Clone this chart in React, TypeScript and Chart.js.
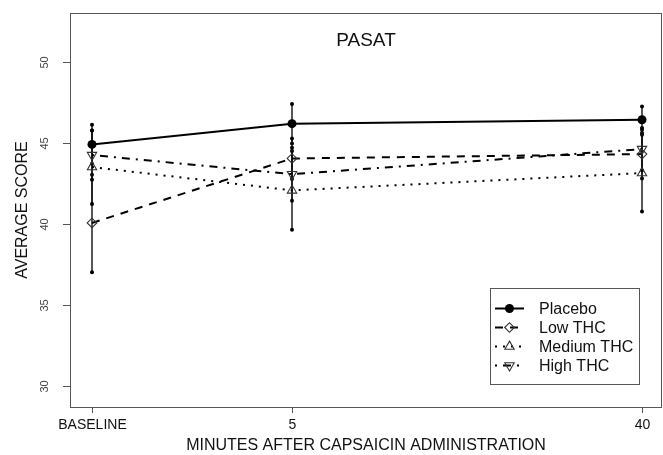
import React, { useEffect, useRef } from 'react';
import { Chart, registerables } from 'chart.js';

Chart.register(...registerables);

// ---- data ----
const timePoints = [-15, 5, 40];
const tickLabels = ['BASELINE', '5', '40'];
const yTicks = [30, 35, 40, 45, 50];
const seriesNames = ['Placebo', 'Low THC', 'Medium THC', 'High THC'];

const placeboMean = [44.94, 46.22, 46.46];
const placeboLow = [43.74, 45.0, 45.64];
const placeboHigh = [46.15, 47.43, 47.28];

const lowMean = [40.09, 44.07, 44.34];
const lowLow = [37.04, 42.8, 42.84];
const lowHigh = [43.07, 45.3, 45.84];

const medMean = [43.54, 42.1, 43.17];
const medLow = [41.26, 39.67, 40.8];
const medHigh = [45.8, 44.53, 45.54];

const highMean = [44.28, 43.1, 44.65];
const highLow = [42.76, 41.46, 43.35];
const highHigh = [45.8, 44.74, 45.95];

const FONT = '"Liberation Sans", Arial, Helvetica, sans-serif';

const styles = [
  { dash: [] as number[], marker: 'circle', fill: true },
  { dash: [8, 7], marker: 'diamond', fill: false },
  { dash: [2, 6], marker: 'triUp', fill: false },
  { dash: [2, 6, 8, 6], marker: 'triDown', fill: false },
];

function drawMarker(ctx: CanvasRenderingContext2D, kind: string, x: number, y: number, fill: boolean) {
  ctx.save();
  ctx.setLineDash([]);
  ctx.beginPath();
  if (kind === 'circle') {
    ctx.arc(x, y, 4.5, 0, Math.PI * 2);
  } else if (kind === 'diamond') {
    const r = 4.8;
    ctx.moveTo(x - r, y);
    ctx.lineTo(x, y - r);
    ctx.lineTo(x + r, y);
    ctx.lineTo(x, y + r);
    ctx.closePath();
  } else if (kind === 'triUp') {
    const r = 5.4;
    ctx.moveTo(x, y - r);
    ctx.lineTo(x + r * 0.866, y + r * 0.5);
    ctx.lineTo(x - r * 0.866, y + r * 0.5);
    ctx.closePath();
  } else {
    const r = 5.4;
    ctx.moveTo(x, y + r);
    ctx.lineTo(x + r * 0.866, y - r * 0.5);
    ctx.lineTo(x - r * 0.866, y - r * 0.5);
    ctx.closePath();
  }
  if (fill) {
    ctx.fillStyle = '#000';
    ctx.fill();
  } else {
    ctx.lineWidth = 1.1;
    ctx.strokeStyle = '#333';
    ctx.stroke();
  }
  ctx.restore();
}

const means = [placeboMean, lowMean, medMean, highMean];
const lows = [placeboLow, lowLow, medLow, highLow];
const highs = [placeboHigh, lowHigh, medHigh, highHigh];

const decorPlugin = {
  id: 'decor',
  beforeDatasetsDraw(chart: any) {
    const ctx = chart.ctx as CanvasRenderingContext2D;
    const xs = chart.scales.x;
    const ys = chart.scales.y;
    ctx.save();
    ctx.strokeStyle = '#111';
    ctx.lineWidth = 1.4;
    for (let s = 0; s < means.length; s++) {
      for (let i = 0; i < timePoints.length; i++) {
        const px = xs.getPixelForValue(timePoints[i]);
        const y1 = ys.getPixelForValue(lows[s][i]);
        const y2 = ys.getPixelForValue(highs[s][i]);
        ctx.beginPath();
        ctx.moveTo(px, y1);
        ctx.lineTo(px, y2);
        ctx.stroke();
        ctx.fillStyle = '#000';
        for (const yy of [y1, y2]) {
          ctx.beginPath();
          ctx.arc(px, yy, 2, 0, Math.PI * 2);
          ctx.fill();
        }
      }
    }
    ctx.restore();
  },
  afterDatasetsDraw(chart: any) {
    const ctx = chart.ctx as CanvasRenderingContext2D;
    const xs = chart.scales.x;
    const ys = chart.scales.y;
    const a = chart.chartArea;
    // markers
    for (let s = 0; s < means.length; s++) {
      for (let i = 0; i < timePoints.length; i++) {
        drawMarker(ctx, styles[s].marker, xs.getPixelForValue(timePoints[i]), ys.getPixelForValue(means[s][i]), styles[s].fill);
      }
    }
    ctx.save();
    // box
    ctx.strokeStyle = '#555';
    ctx.lineWidth = 1;
    ctx.strokeRect(Math.round(a.left) + 0.5, Math.round(a.top) + 0.5, Math.round(a.right - a.left) - 1, Math.round(a.bottom - a.top));
    // y ticks
    ctx.strokeStyle = '#555';
    ctx.fillStyle = '#444';
    ctx.font = `11px ${FONT}`;
    for (const t of yTicks) {
      const py = Math.round(ys.getPixelForValue(t)) + 0.5;
      ctx.beginPath();
      ctx.moveTo(a.left - 7, py);
      ctx.lineTo(a.left, py);
      ctx.stroke();
      ctx.save();
      ctx.translate(45, py);
      ctx.rotate(-Math.PI / 2);
      ctx.textAlign = 'center';
      ctx.textBaseline = 'middle';
      ctx.fillText(String(t), 0, 0);
      ctx.restore();
    }
    // x ticks
    ctx.fillStyle = '#111';
    ctx.font = `14px ${FONT}`;
    ctx.textAlign = 'center';
    ctx.textBaseline = 'middle';
    for (let i = 0; i < timePoints.length; i++) {
      const px = Math.round(xs.getPixelForValue(timePoints[i])) + 0.5;
      ctx.beginPath();
      ctx.moveTo(px, a.bottom);
      ctx.lineTo(px, a.bottom + 6);
      ctx.stroke();
      ctx.fillText(tickLabels[i], px, 425);
    }
    // axis titles
    ctx.font = `16px ${FONT}`;
    ctx.fillStyle = '#111';
    ctx.fillText('MINUTES AFTER CAPSAICIN ADMINISTRATION', (a.left + a.right) / 2, 446);
    ctx.save();
    ctx.translate(23, (a.top + a.bottom) / 2);
    ctx.rotate(-Math.PI / 2);
    ctx.fillText('AVERAGE SCORE', 0, 0);
    ctx.restore();
    // title
    ctx.font = `19px ${FONT}`;
    ctx.fillText('PASAT', (a.left + a.right) / 2, 41);
    // legend
    ctx.fillStyle = '#fff';
    ctx.fillRect(491, 289, 149, 95);
    ctx.strokeStyle = '#555';
    ctx.lineWidth = 1;
    ctx.strokeRect(490.5, 288.5, 149, 96);
    ctx.font = `16px ${FONT}`;
    ctx.textAlign = 'left';
    for (let s = 0; s < seriesNames.length; s++) {
      const ly = 308.5 + 19 * s;
      ctx.save();
      ctx.strokeStyle = '#000';
      ctx.lineWidth = 2;
      ctx.setLineDash(styles[s].dash);
      ctx.beginPath();
      ctx.moveTo(495, ly);
      ctx.lineTo(524, ly);
      ctx.stroke();
      ctx.restore();
      drawMarker(ctx, styles[s].marker, 509.5, ly, styles[s].fill);
      ctx.fillStyle = '#111';
      ctx.fillText(seriesNames[s], 539, ly + 1);
    }
    ctx.restore();
  },
};

export default function App() {
  const ref = useRef<HTMLCanvasElement>(null);
  useEffect(() => {
    document.body.style.margin = '0';
    const canvas = ref.current!;
    const datasets = means.map((m, s) => ({
      label: seriesNames[s],
      data: timePoints.map((t, i) => ({ x: t, y: m[i] })),
      borderColor: '#000',
      borderWidth: 2,
      borderDash: styles[s].dash,
      pointRadius: 0,
      fill: false,
      tension: 0,
    }));
    const chart = new Chart(canvas, {
      type: 'line',
      data: { datasets },
      options: {
        animation: false,
        responsive: false,
        maintainAspectRatio: false,
        layout: { padding: { left: 70, top: 13, right: 1, bottom: 48 } },
        plugins: { legend: { display: false }, tooltip: { enabled: false }, title: { display: false } },
        scales: {
          x: { type: 'linear', min: -17.2, max: 42.0, display: false },
          y: { type: 'linear', min: 28.73, max: 53.05, display: false },
        },
      },
      plugins: [decorPlugin],
    });
    return () => chart.destroy();
  }, []);
  return (
    <div style={{ width: 663, height: 455, background: '#fff' }}>
      <canvas ref={ref} width={663} height={455} style={{ display: 'block', width: 663, height: 455 }} />
    </div>
  );
}
